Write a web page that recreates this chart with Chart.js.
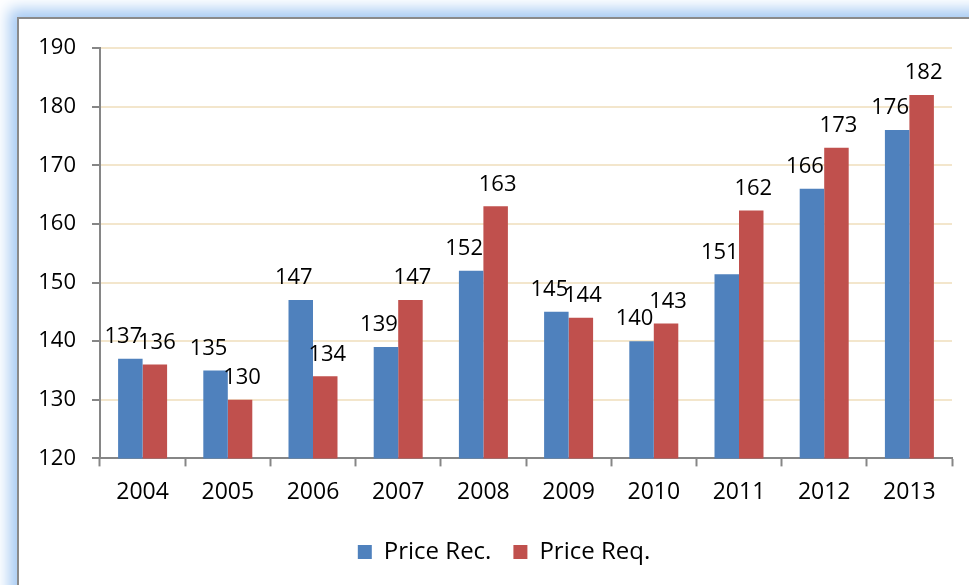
<!DOCTYPE html>
<html>
<head>
<meta charset="utf-8">
<script src="https://cdn.jsdelivr.net/npm/chart.js@4"></script>
<style>
  html, body { margin: 0; padding: 0; background: #ffffff; overflow: hidden; }
  #frame {
    position: absolute; left: 17px; top: 17px; width: 980px; height: 600px;
    background: #ffffff; border: 2px solid #8a8a8a;
    box-shadow: 0 0 14px 8px #a6caf3;
  }
  #wrap { position: absolute; left: 0; top: 0; width: 969px; height: 585px; }
</style>
</head>
<body>
<div id="frame"></div>
<div id="wrap"><canvas id="chart"></canvas></div>
<script>
// values
var years = ["2004", "2005", "2006", "2007", "2008", "2009", "2010", "2011", "2012", "2013"];
var priceRec = [137, 135, 147, 139, 152, 145, 140, 151.4, 166, 176];
var priceReq = [136, 130, 134, 147, 163, 144, 143, 162.3, 173, 182];
var yTicks = [120, 130, 140, 150, 160, 170, 180, 190];

var font = "'Open Sans', 'DejaVu Sans', sans-serif";
var axisGray = "#868686";

// value labels above each bar; the first series is nudged left a bit like Excel did
var barLabels = {
    id: "barLabels",
    afterDatasetsDraw: function(chart) {
        var ctx = chart.ctx;
        ctx.save();
        ctx.font = "22px " + font;
        ctx.fillStyle = "#000000";
        ctx.textAlign = "center";
        ctx.textBaseline = "bottom";
        chart.data.datasets.forEach(function(ds, i) {
            var dx = i === 0 ? -7 : 2;
            chart.getDatasetMeta(i).data.forEach(function(bar, j) {
                ctx.fillText(Math.round(ds.data[j]), bar.x + dx, bar.y - 11);
            });
        });
        ctx.restore();
    }
};

// legend sits a little right of centre in the original
var legendShift = {
    id: "legendShift",
    afterLayout: function(chart) {
        chart.legend.left += 28;
        chart.legend.right += 28;
    }
};

var ctx = document.getElementById("chart").getContext("2d");
new Chart(ctx, {
    type: "bar",
    data: {
        labels: years,
        datasets: [
        {
            label: "Price Rec.",
            data: priceRec,
            backgroundColor: "#4f81bd",
            barPercentage: 1,
            categoryPercentage: 0.575
        },
        {
            label: "Price Req.",
            data: priceReq,
            backgroundColor: "#c0504d",
            barPercentage: 1,
            categoryPercentage: 0.575
        }
    ]
    },
    plugins: [barLabels, legendShift],
    options: {
        responsive: true,
        maintainAspectRatio: false,
        animation: false,
        layout: {
            padding: { left: 0, right: 17, top: 48, bottom: 11 }
        },
        plugins: {
            tooltip: { enabled: false },
            legend: {
                position: "bottom",
                labels: {
                    font: { family: font, size: 24 },
                    color: "#000000",
                    boxWidth: 14,
                    boxHeight: 14,
                    padding: 22
                }
            }
        },
        scales: {
            x: {
                offset: true,
                grid: {
                    offset: true,
                    drawOnChartArea: false,
                    drawTicks: true,
                    tickLength: 8,
                    tickColor: axisGray,
                    tickWidth: 2
                },
                border: { color: axisGray, width: 2 },
                ticks: {
                    font: { family: font, size: 23 },
                    color: "#000000",
                    padding: 12,
                    maxRotation: 0
                }
            },
            y: {
                min: 120,
                max: 190,
                afterBuildTicks: function(axis) {
                    axis.ticks = yTicks.map(function(v) { return { value: v }; });
                },
                afterFit: function(axis) {
                    axis.width = 100;
                },
                grid: {
                    color: "#f3e6cc",
                    lineWidth: 2,
                    drawTicks: true,
                    tickLength: 8,
                    tickColor: axisGray,
                    tickWidth: 2
                },
                border: { color: axisGray, width: 2 },
                ticks: {
                    font: { family: font, size: 22 },
                    color: "#000000",
                    padding: 16
                }
            }
        }
    }
});
</script>
</body>
</html>
